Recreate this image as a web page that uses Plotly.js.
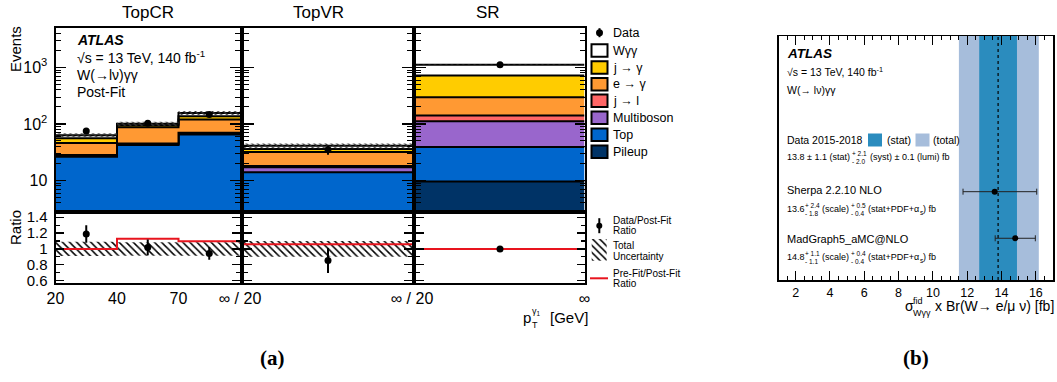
<!DOCTYPE html>
<html><head><meta charset="utf-8">
<script src="https://cdn.plot.ly/plotly-3.0.1.min.js"></script>
<style>body{margin:0;background:#fff}#c{width:1057px;height:382px}</style>
</head><body><div id="c"></div>
<svg id="meas" width="10" height="10" style="position:absolute;left:0;top:0;visibility:hidden"><text id="mt" style="white-space:pre" font-family="Liberation Sans, Arial, sans-serif"></text></svg>
<script>
// ---------------- DATA ----------------
const regions = ['TopCR', 'TopVR', 'SR'];
const edgeLabels = [['20', '40', '70', '∞ / 20'], ['∞ / 20'], ['∞']]; // labels of the last bin edges in each region
const sampleNames = ['Pileup', 'Top', 'Multiboson', 'j → l', 'e → γ', 'j → γ', 'Wγγ']; // stacked bottom -> top
const sampleColors = ['#003366', '#0066CC', '#9966CC', '#FF6666', '#FF9933', '#FFCC00', '#FFFFFF'];
const pileup     = [[0.5, 0.8, 1.0], [0.3], [9.6]];
const topQuark   = [[25.8, 41.5, 64], [13.7], [29.4]];
const multiboson = [[1.2, 1.8, 3], [3.2], [73]];
const jToL       = [[0.6, 1.0, 2], [0.8], [29]];
const eToGamma   = [[18, 42, 50], [14], [156]];
const jToGamma   = [[10, 8, 17], [4], [423]];
const wgg        = [[7, 6, 19], [5], [400]];
const dataYield  = [[75, 103, 147], [35], [1120]];
const dataErr    = [[7, 10, 12.5], [6.5], [30]];
const totUncRel  = [[0.09, 0.085, 0.085], [0.1], [0.012]];
const preFitRatio = [[1.0, 1.127, 1.096], [1.06], [1.0]];
const mainTickVals = [10, 100, 1000];
const mainTickText = ['10', '10<sup>2</sup>', '10<sup>3</sup>'];

// panel (b)
const measured = 13.8, statUnc = 1.1, systUp = 2.1, systDn = 2.0, lumiUnc = 0.1;
const predNames = ['MadGraph5_aMC@NLO', 'Sherpa 2.2.10 NLO'];
const predValues = [14.8, 13.6];
const predScaleUp = [1.1, 2.4], predScaleDn = [1.1, 1.8];
const predOtherUp = [0.4, 0.5], predOtherDn = [0.4, 0.4];

// ---------------- HELPERS ----------------
const W = 1057, H = 382;
const FAM = 'Liberation Sans, Arial, sans-serif';
const mt = document.getElementById('mt');
function tw(s, size) {
  mt.setAttribute('font-size', size);
  mt.textContent = 'a' + s + 'a';
  const w = mt.getComputedTextLength();
  mt.textContent = 'aa';
  return w - mt.getComputedTextLength();
}
const anns = [];
function A(x, y, text, size, o) {
  o = o || {};
  anns.push(Object.assign({xref: 'x8', yref: 'y8', x: x, y: y, text: text, showarrow: false,
    xanchor: 'left', yanchor: 'middle', borderpad: 0,
    font: {size: size, family: o.family || FAM, color: '#000', weight: o.weight, style: o.style}}, o.extra || {}));
}
// rich line: segs = {t} | {sp} | {sup, sub} | {lo}
function rich(x, y, segs, size, ssize, anchor) {
  const widths = segs.map(s => {
    if (s.t !== undefined) return tw(s.plain || s.t, size);
    if (s.sp) return tw(' ', size) * s.sp;
    if (s.lo !== undefined) return tw(s.lo, ssize);
    return Math.max(tw(s.supPlain || s.sup, ssize), tw(s.sub, ssize));
  });
  const total = widths.reduce((a, b) => a + b, 0);
  let cx = anchor === 'right' ? x - total : x;
  segs.forEach((s, k) => {
    if (s.t !== undefined) A(cx, y, s.t, size);
    else if (s.lo !== undefined) A(cx, y + 0.4 * size, s.lo, ssize);
    else if (!s.sp) { A(cx, y - 0.38 * size, s.sup, ssize); A(cx, y + 0.5 * size, s.sub, ssize); }
    cx += widths[k];
  });
}
const axRef = (l, n) => n === 1 ? l : l + n;
const axKey = (l, n) => n === 1 ? l + 'axis' : l + 'axis' + n;
const px = (a, b) => [a / W, b / W];
const py = (t, b) => [1 - b / H, 1 - t / H];

const xDom = [[55.5, 240], [244, 412], [415.5, 584.5]];
const mainY = py(28, 210), ratioY = py(214, 283);
const minorLog = [];
[1, 10, 100, 1000].forEach(d => { for (let k = 2; k <= 9; k++) { const v = k * d; if (v >= 3 && v <= 5000) minorLog.push(v); } });

const layout = {
  width: W, height: H, margin: {l: 0, r: 0, t: 0, b: 0},
  paper_bgcolor: '#fff', plot_bgcolor: 'rgba(0,0,0,0)', showlegend: false,
  font: {family: FAM, color: '#000'}, shapes: [], annotations: anns
};
const traces = [];
const stacks = [pileup, topQuark, multiboson, jToL, eToGamma, jToGamma, wgg];
const hatch = (fg, size, sol) => ({shape: '\\', fgcolor: fg, bgcolor: 'rgba(0,0,0,0)', size: size, solidity: sol});

regions.forEach((r, i) => {
  const n = dataYield[i].length;
  const edges = Array.from({length: n + 1}, (_, k) => k);
  const step = v => v.concat([v[v.length - 1]]);
  const centers = dataYield[i].map((_, j) => j + 0.5);
  const xm = axRef('x', i + 1), ym = axRef('y', i + 1), xr = axRef('x', i + 4), yr = axRef('y', i + 4);
  const common = {mode: 'lines', hoverinfo: 'skip'};
  layout[axKey('x', i + 1)] = {domain: px(xDom[i][0], xDom[i][1]), range: [0, n], anchor: ym, showticklabels: false,
    ticks: '', showline: true, mirror: true, linewidth: 2, linecolor: '#000', showgrid: false, zeroline: false, fixedrange: true};
  layout[axKey('y', i + 1)] = {domain: mainY, type: 'log', range: [Math.log10(3), Math.log10(5000)], anchor: xm,
    tickmode: 'array', tickvals: mainTickVals, ticktext: mainTickText, showticklabels: i === 0,
    ticks: 'inside', ticklen: 10, tickwidth: 1.2, tickcolor: '#000', mirror: 'allticks', showline: true, linewidth: 2, linecolor: '#000',
    minor: {tickmode: 'array', tickvals: minorLog, ticks: 'inside', ticklen: 5, tickcolor: '#000', tickwidth: 1},
    showgrid: false, zeroline: false, tickfont: {size: 16}, ticklabelstandoff: 3, fixedrange: true};
  layout[axKey('x', i + 4)] = {domain: px(xDom[i][0], xDom[i][1]), range: [0, n], anchor: yr,
    tickmode: 'array', tickvals: edges.slice(edges.length - edgeLabels[i].length), ticktext: edgeLabels[i], ticks: '',
    showline: true, mirror: true, linewidth: 2,
    linecolor: '#000', showgrid: false, zeroline: false, tickfont: {size: 16}, fixedrange: true};
  layout[axKey('y', i + 4)] = {domain: ratioY, range: [0.57, 1.44], anchor: xr, tickmode: 'linear', tick0: 0.6, dtick: 0.2,
    showticklabels: i === 0, ticks: 'inside', ticklen: 8, tickcolor: '#000', tickwidth: 1.2, mirror: 'allticks', showline: true,
    linewidth: 2, linecolor: '#000', minor: {dtick: 0.1, ticks: 'inside', ticklen: 4, tickcolor: '#000'},
    showgrid: false, zeroline: false, tickfont: {size: 15}, ticklabelstandoff: 3, fixedrange: true};

  traces.push(Object.assign({x: edges, y: edges.map(() => 1), xaxis: xm, yaxis: ym, line: {width: 0, shape: 'hv'}}, common));
  let cum = new Array(n).fill(0);
  stacks.forEach((c, k) => {
    cum = cum.map((v, j) => v + c[i][j]);
    traces.push(Object.assign({x: edges, y: step(cum), xaxis: xm, yaxis: ym, line: {color: '#000', width: 2, shape: 'hv'},
      fill: 'tonexty', fillcolor: sampleColors[k], name: sampleNames[k]}, common));
  });
  const total = cum.slice();
  const lo = total.map((v, j) => v * (1 - totUncRel[i][j])), hi = total.map((v, j) => v * (1 + totUncRel[i][j]));
  traces.push(Object.assign({x: edges, y: step(lo), xaxis: xm, yaxis: ym, line: {width: 0, shape: 'hv'}}, common));
  traces.push(Object.assign({x: edges, y: step(hi), xaxis: xm, yaxis: ym, line: {width: 0, shape: 'hv'}, fill: 'tonexty',
    fillcolor: 'rgba(0,0,0,0)', fillpattern: hatch('#333', 4, 0.35)}, common));
  traces.push({x: centers, y: dataYield[i], xaxis: xm, yaxis: ym, mode: 'markers', hoverinfo: 'skip',
    marker: {color: '#000', size: 7}, error_y: {type: 'data', array: dataErr[i], color: '#000', thickness: 2, width: 0}});

  const rlo = totUncRel[i].map(u => 1 - u), rhi = totUncRel[i].map(u => 1 + u);
  traces.push(Object.assign({x: edges, y: step(rlo), xaxis: xr, yaxis: yr, line: {width: 0, shape: 'hv'}}, common));
  traces.push(Object.assign({x: edges, y: step(rhi), xaxis: xr, yaxis: yr, line: {width: 0, shape: 'hv'}, fill: 'tonexty',
    fillcolor: 'rgba(0,0,0,0)', fillpattern: hatch('#000', 5, 0.3)}, common));
  traces.push(Object.assign({x: edges, y: step(preFitRatio[i]), xaxis: xr, yaxis: yr, line: {color: '#E8141E', width: 2, shape: 'hv'}}, common));
  traces.push({x: centers, y: dataYield[i].map((d, j) => d / total[j]), xaxis: xr, yaxis: yr, mode: 'markers', hoverinfo: 'skip',
    marker: {color: '#000', size: 7}, error_y: {type: 'data', array: dataErr[i].map((e, j) => e / total[j]), color: '#000', thickness: 2, width: 0}});
});

// ---------------- panel (b) ----------------
layout.xaxis7 = {domain: px(778.5, 1053), range: [1, 17], anchor: 'y7', tickmode: 'linear', tick0: 0, dtick: 2,
  ticks: 'inside', ticklen: 9, tickcolor: '#000', mirror: 'allticks', showline: true, linewidth: 1.5, linecolor: '#000',
  minor: {dtick: 0.5, ticks: 'inside', ticklen: 4, tickcolor: '#000'}, showgrid: false, zeroline: false,
  tickfont: {size: 12.5}, fixedrange: true};
layout.yaxis7 = {domain: py(36, 280), range: [-0.895, 4.34], anchor: 'x7', showticklabels: false, ticks: '',
  showline: true, mirror: true, linewidth: 1.5, linecolor: '#000', showgrid: false, zeroline: false, fixedrange: true};
const totUp = Math.sqrt(statUnc ** 2 + systUp ** 2 + lumiUnc ** 2), totDn = Math.sqrt(statUnc ** 2 + systDn ** 2 + lumiUnc ** 2);
layout.shapes.push({type: 'rect', xref: 'x7', yref: 'y7 domain', x0: measured - totDn, x1: measured + totUp, y0: 0, y1: 1,
  fillcolor: '#A6BDDB', line: {width: 0}, layer: 'below'});
layout.shapes.push({type: 'rect', xref: 'x7', yref: 'y7 domain', x0: measured - statUnc, x1: measured + statUnc, y0: 0, y1: 1,
  fillcolor: '#2B8CBE', line: {width: 0}, layer: 'below'});
layout.shapes.push({type: 'line', xref: 'x7', yref: 'y7 domain', x0: measured, x1: measured, y0: 0, y1: 1,
  line: {color: '#000', width: 1.2, dash: 'dot'}, layer: 'below'});
traces.push({x: predValues, y: predValues.map((_, k) => k), xaxis: 'x7', yaxis: 'y7', mode: 'markers', hoverinfo: 'skip',
  marker: {color: '#000', size: 6},
  error_x: {type: 'data', symmetric: false, color: '#222', thickness: 1, width: 3,
    array: predValues.map((_, k) => Math.hypot(predScaleUp[k], predOtherUp[k])),
    arrayminus: predValues.map((_, k) => Math.hypot(predScaleDn[k], predOtherDn[k]))}});

layout.xaxis8 = {domain: [0, 1], range: [0, W], anchor: 'y8', visible: false, fixedrange: true};
layout.yaxis8 = {domain: [0, 1], range: [H, 0], anchor: 'x8', visible: false, fixedrange: true};

// ---------------- panel (a) texts ----------------
A(148, 12, regions[0], 17, {extra: {xanchor: 'center'}});
A(318, 12, regions[1], 17, {extra: {xanchor: 'center'}});
A(488, 12, regions[2], 17, {extra: {xanchor: 'center'}});
A(15.5, 49.5, 'Events', 15, {extra: {xanchor: 'center', textangle: -90}});
A(15.5, 227.5, 'Ratio', 15, {extra: {xanchor: 'center', textangle: -90}});
A(76, 40, 'ATLAS', 14, {weight: 'bold', style: 'italic'});
A(76, 57, '√s = 13 TeV, 140 fb<sup>-1</sup>', 14);
A(76, 75, 'W(→lν)γγ', 14);
A(76, 92, 'Post-Fit', 14);
rich(587, 317, [{t: 'p'}, {sup: 'γ<sub>1</sub>', supPlain: 'γ1', sub: 'T'}, {sp: 2}, {t: '[GeV]'}], 15, 9, 'right');

traces.push({x: [599.5], y: [32.7], xaxis: 'x8', yaxis: 'y8', mode: 'markers', hoverinfo: 'skip', marker: {color: '#000', size: 7},
  error_y: {type: 'data', array: [4.5], color: '#000', thickness: 2, width: 0}});
A(611.7, 32.7, 'Data', 12.5);
const legY = [50.5, 67.5, 84.3, 100.8, 117.8, 134.8, 151.7];
for (let k = sampleNames.length - 1, row = 0; k >= 0; k--, row++) {
  layout.shapes.push({type: 'rect', xref: 'x8', yref: 'y8', x0: 591.5, x1: 607.5, y0: legY[row] - 6.2, y1: legY[row] + 6.2,
    fillcolor: sampleColors[k], line: {color: '#000', width: 2}});
  A(611.7, legY[row], sampleNames[k], 12.5);
}
traces.push({x: [599.3], y: [225.7], xaxis: 'x8', yaxis: 'y8', mode: 'markers', hoverinfo: 'skip', marker: {color: '#000', size: 6},
  error_y: {type: 'data', array: [7.5], color: '#000', thickness: 2, width: 0}});
A(611.7, 220.7, 'Data/Post-Fit', 10); A(611.7, 230.7, 'Ratio', 10);
traces.push({x: [591.7, 606.7, 606.7, 591.7, 591.7], y: [239, 239, 260.7, 260.7, 239], xaxis: 'x8', yaxis: 'y8', mode: 'lines',
  hoverinfo: 'skip', line: {width: 0}, fill: 'toself', fillcolor: 'rgba(0,0,0,0)', fillpattern: hatch('#000', 5, 0.3)});
A(611.7, 245.7, 'Total', 10); A(611.7, 256.7, 'Uncertainty', 10);
layout.shapes.push({type: 'line', xref: 'x8', yref: 'y8', x0: 590, x1: 608, y0: 278.3, y1: 278.3, line: {color: '#E8141E', width: 2}});
A(611.7, 273.3, 'Pre-Fit/Post-Fit', 10); A(611.7, 283.3, 'Ratio', 10);

// ---------------- panel (b) texts ----------------
A(786, 53.3, 'ATLAS', 13.5, {weight: 'bold', style: 'italic'});
A(786, 71.7, '√s = 13 TeV, 140 fb<sup>-1</sup>', 10.5);
A(786, 90, 'W(→ lν)γγ', 10.5);
A(786, 140, 'Data 2015-2018', 10.5);
layout.shapes.push({type: 'rect', xref: 'x8', yref: 'y8', x0: 868, x1: 882, y0: 133.5, y1: 146.5, fillcolor: '#2B8CBE', line: {width: 0}});
A(885.5, 140, '(stat)', 10.5);
layout.shapes.push({type: 'rect', xref: 'x8', yref: 'y8', x0: 915.5, x1: 929.5, y0: 133.5, y1: 146.5, fillcolor: '#A6BDDB', line: {width: 0}});
A(932, 140, '(total)', 10.5);
rich(786, 157, [{t: measured + ' ± ' + statUnc + ' (stat)'}, {sp: 1}, {sup: '+ ' + systUp.toFixed(1), sub: '- ' + systDn.toFixed(1)},
  {sp: 1}, {t: '(syst) ± ' + lumiUnc + ' (lumi) fb'}], 9, 6.5);
const predLabelY = [239.3, 190], predLineY = [256.7, 208.5];
predNames.forEach((nm, k) => {
  A(786, predLabelY[k], nm, 11);
  rich(786, predLineY[k], [{t: predValues[k].toFixed(1)}, {sup: '+ ' + predScaleUp[k].toFixed(1), sub: '- ' + predScaleDn[k].toFixed(1)},
    {sp: 1}, {t: '(scale)'}, {sp: 1}, {sup: '+ ' + predOtherUp[k].toFixed(1), sub: '- ' + predOtherDn[k].toFixed(1)}, {sp: 1},
    {t: '(stat+PDF+α'}, {lo: 's'}, {t: ') fb'}], 9, 6.5);
});
rich(1053, 306, [{t: 'σ'}, {sup: 'fid', sub: 'Wγγ'}, {sp: 1}, {t: 'x Br(W→ e/μ ν) [fb]'}], 14, 9, 'right');

// panel labels
A(272, 358, '<b>(a)</b>', 21, {family: 'Liberation Serif, Times New Roman, serif', extra: {xanchor: 'center'}});
A(916, 358, '<b>(b)</b>', 21, {family: 'Liberation Serif, Times New Roman, serif', extra: {xanchor: 'center'}});

document.getElementById('meas').remove();
Plotly.newPlot('c', traces, layout, {staticPlot: true});
</script>
</body></html>
